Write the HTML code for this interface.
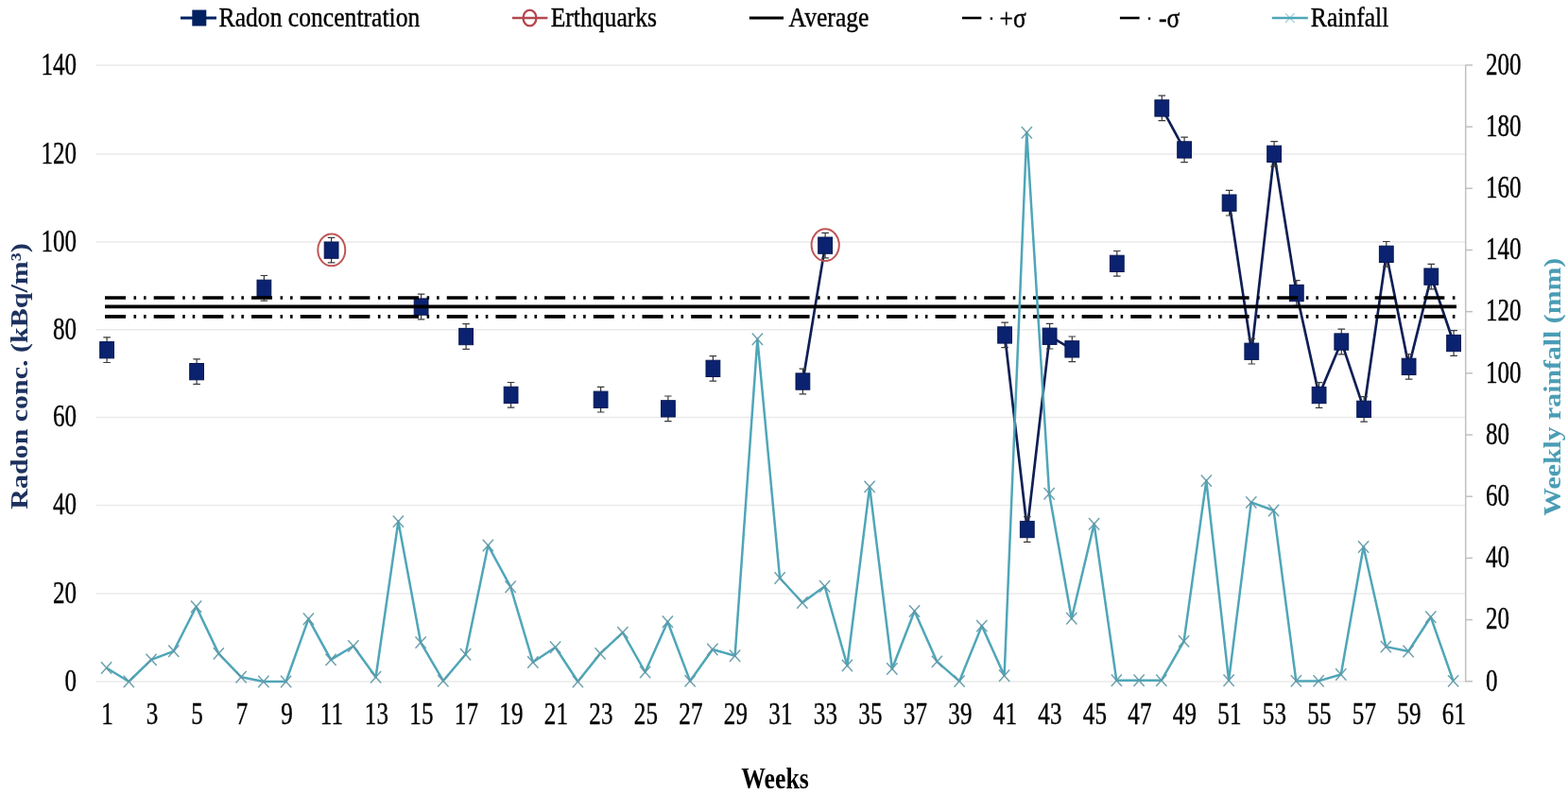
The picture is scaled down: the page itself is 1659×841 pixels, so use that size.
<!DOCTYPE html><html><head><meta charset="utf-8"><style>html,body{margin:0;padding:0;background:#fff;}svg{display:block}text{font-family:"Liberation Serif","Times New Roman",serif;}</style></head><body>
<svg width="1659" height="841" viewBox="0 0 1659 841">
<rect width="1659" height="841" fill="#fff"/>
<line x1="101.5" y1="721" x2="1550.5" y2="721" stroke="#eaeaea" stroke-width="1.5"/>
<line x1="101.5" y1="628" x2="1550.5" y2="628" stroke="#eaeaea" stroke-width="1.5"/>
<line x1="101.5" y1="534.5" x2="1550.5" y2="534.5" stroke="#eaeaea" stroke-width="1.5"/>
<line x1="101.5" y1="441.4" x2="1550.5" y2="441.4" stroke="#eaeaea" stroke-width="1.5"/>
<line x1="101.5" y1="348.7" x2="1550.5" y2="348.7" stroke="#eaeaea" stroke-width="1.5"/>
<line x1="101.5" y1="256.1" x2="1550.5" y2="256.1" stroke="#eaeaea" stroke-width="1.5"/>
<line x1="101.5" y1="162.9" x2="1550.5" y2="162.9" stroke="#eaeaea" stroke-width="1.5"/>
<line x1="101.5" y1="69.1" x2="1550.5" y2="69.1" stroke="#eaeaea" stroke-width="1.5"/>
<line x1="1550.7" y1="68.5" x2="1550.7" y2="721.5" stroke="#c0c0c0" stroke-width="1.5"/>
<line x1="1550.7" y1="720.8" x2="1558" y2="720.8" stroke="#c0c0c0" stroke-width="1.5"/>
<line x1="1550.7" y1="655.6" x2="1558" y2="655.6" stroke="#c0c0c0" stroke-width="1.5"/>
<line x1="1550.7" y1="590.4" x2="1558" y2="590.4" stroke="#c0c0c0" stroke-width="1.5"/>
<line x1="1550.7" y1="525.2" x2="1558" y2="525.2" stroke="#c0c0c0" stroke-width="1.5"/>
<line x1="1550.7" y1="460.0" x2="1558" y2="460.0" stroke="#c0c0c0" stroke-width="1.5"/>
<line x1="1550.7" y1="394.8" x2="1558" y2="394.8" stroke="#c0c0c0" stroke-width="1.5"/>
<line x1="1550.7" y1="329.7" x2="1558" y2="329.7" stroke="#c0c0c0" stroke-width="1.5"/>
<line x1="1550.7" y1="264.5" x2="1558" y2="264.5" stroke="#c0c0c0" stroke-width="1.5"/>
<line x1="1550.7" y1="199.3" x2="1558" y2="199.3" stroke="#c0c0c0" stroke-width="1.5"/>
<line x1="1550.7" y1="134.1" x2="1558" y2="134.1" stroke="#c0c0c0" stroke-width="1.5"/>
<line x1="1550.7" y1="68.9" x2="1558" y2="68.9" stroke="#c0c0c0" stroke-width="1.5"/>
<polyline points="849.4,403.5 873.1,259.6" fill="none" stroke="#0f1f55" stroke-width="2.7"/>
<polyline points="1063.1,354.4 1086.8,560 1110.6,355.7 1134.3,369.3" fill="none" stroke="#0f1f55" stroke-width="2.7"/>
<polyline points="1229.3,114.4 1253.1,158.4" fill="none" stroke="#0f1f55" stroke-width="2.7"/>
<polyline points="1300.6,214.7 1324.3,371.7 1348.1,162.9 1371.8,310 1395.6,418 1419.3,361.5 1443.1,432.9 1466.8,268.8 1490.6,387.8 1514.3,292.6 1538.1,363" fill="none" stroke="#0f1f55" stroke-width="2.7"/>
<path d="M113.1,356.9V383.5M109.3,356.9H116.9M109.3,383.5H116.9" stroke="#3a3a3a" stroke-width="1.2" fill="none"/>
<path d="M208.1,379.8V406.4M204.3,379.8H211.9M204.3,406.4H211.9" stroke="#3a3a3a" stroke-width="1.2" fill="none"/>
<path d="M279.4,291.5V318.1M275.6,291.5H283.2M275.6,318.1H283.2" stroke="#3a3a3a" stroke-width="1.2" fill="none"/>
<path d="M350.6,251.3V277.9M346.8,251.3H354.4M346.8,277.9H354.4" stroke="#3a3a3a" stroke-width="1.2" fill="none"/>
<path d="M445.6,311.2V337.8M441.8,311.2H449.4M441.8,337.8H449.4" stroke="#3a3a3a" stroke-width="1.2" fill="none"/>
<path d="M493.1,342.7V369.3M489.3,342.7H496.9M489.3,369.3H496.9" stroke="#3a3a3a" stroke-width="1.2" fill="none"/>
<path d="M540.6,404.5V431.1M536.8,404.5H544.4M536.8,431.1H544.4" stroke="#3a3a3a" stroke-width="1.2" fill="none"/>
<path d="M635.6,409.4V436.0M631.8,409.4H639.4M631.8,436.0H639.4" stroke="#3a3a3a" stroke-width="1.2" fill="none"/>
<path d="M706.9,419.0V445.6M703.1,419.0H710.6M703.1,445.6H710.6" stroke="#3a3a3a" stroke-width="1.2" fill="none"/>
<path d="M754.4,376.6V403.2M750.6,376.6H758.1M750.6,403.2H758.1" stroke="#3a3a3a" stroke-width="1.2" fill="none"/>
<path d="M849.4,390.2V416.8M845.6,390.2H853.1M845.6,416.8H853.1" stroke="#3a3a3a" stroke-width="1.2" fill="none"/>
<path d="M873.1,246.3V272.9M869.3,246.3H876.9M869.3,272.9H876.9" stroke="#3a3a3a" stroke-width="1.2" fill="none"/>
<path d="M1063.1,341.1V367.7M1059.3,341.1H1066.9M1059.3,367.7H1066.9" stroke="#3a3a3a" stroke-width="1.2" fill="none"/>
<path d="M1086.8,546.7V573.3M1083.0,546.7H1090.6M1083.0,573.3H1090.6" stroke="#3a3a3a" stroke-width="1.2" fill="none"/>
<path d="M1110.6,342.4V369.0M1106.8,342.4H1114.4M1106.8,369.0H1114.4" stroke="#3a3a3a" stroke-width="1.2" fill="none"/>
<path d="M1134.3,356.0V382.6M1130.5,356.0H1138.1M1130.5,382.6H1138.1" stroke="#3a3a3a" stroke-width="1.2" fill="none"/>
<path d="M1181.8,265.5V292.1M1178.0,265.5H1185.6M1178.0,292.1H1185.6" stroke="#3a3a3a" stroke-width="1.2" fill="none"/>
<path d="M1229.3,101.1V127.7M1225.5,101.1H1233.1M1225.5,127.7H1233.1" stroke="#3a3a3a" stroke-width="1.2" fill="none"/>
<path d="M1253.1,145.1V171.7M1249.3,145.1H1256.9M1249.3,171.7H1256.9" stroke="#3a3a3a" stroke-width="1.2" fill="none"/>
<path d="M1300.6,201.4V228.0M1296.8,201.4H1304.4M1296.8,228.0H1304.4" stroke="#3a3a3a" stroke-width="1.2" fill="none"/>
<path d="M1324.3,358.4V385.0M1320.5,358.4H1328.1M1320.5,385.0H1328.1" stroke="#3a3a3a" stroke-width="1.2" fill="none"/>
<path d="M1348.1,149.6V176.2M1344.3,149.6H1351.9M1344.3,176.2H1351.9" stroke="#3a3a3a" stroke-width="1.2" fill="none"/>
<path d="M1371.8,296.7V323.3M1368.0,296.7H1375.6M1368.0,323.3H1375.6" stroke="#3a3a3a" stroke-width="1.2" fill="none"/>
<path d="M1395.6,404.7V431.3M1391.8,404.7H1399.4M1391.8,431.3H1399.4" stroke="#3a3a3a" stroke-width="1.2" fill="none"/>
<path d="M1419.3,348.2V374.8M1415.5,348.2H1423.1M1415.5,374.8H1423.1" stroke="#3a3a3a" stroke-width="1.2" fill="none"/>
<path d="M1443.1,419.6V446.2M1439.3,419.6H1446.9M1439.3,446.2H1446.9" stroke="#3a3a3a" stroke-width="1.2" fill="none"/>
<path d="M1466.8,255.5V282.1M1463.0,255.5H1470.6M1463.0,282.1H1470.6" stroke="#3a3a3a" stroke-width="1.2" fill="none"/>
<path d="M1490.6,374.5V401.1M1486.8,374.5H1494.4M1486.8,401.1H1494.4" stroke="#3a3a3a" stroke-width="1.2" fill="none"/>
<path d="M1514.3,279.3V305.9M1510.5,279.3H1518.1M1510.5,305.9H1518.1" stroke="#3a3a3a" stroke-width="1.2" fill="none"/>
<path d="M1538.1,349.7V376.3M1534.3,349.7H1541.9M1534.3,376.3H1541.9" stroke="#3a3a3a" stroke-width="1.2" fill="none"/>
<rect x="105.7" y="361.6" width="14.8" height="17.3" fill="#0a2270" stroke="#071852" stroke-width="1"/>
<rect x="200.7" y="384.5" width="14.8" height="17.3" fill="#0a2270" stroke="#071852" stroke-width="1"/>
<rect x="272.0" y="296.2" width="14.8" height="17.3" fill="#0a2270" stroke="#071852" stroke-width="1"/>
<rect x="343.2" y="256.0" width="14.8" height="17.3" fill="#0a2270" stroke="#071852" stroke-width="1"/>
<rect x="438.2" y="315.9" width="14.8" height="17.3" fill="#0a2270" stroke="#071852" stroke-width="1"/>
<rect x="485.7" y="347.4" width="14.8" height="17.3" fill="#0a2270" stroke="#071852" stroke-width="1"/>
<rect x="533.2" y="409.2" width="14.8" height="17.3" fill="#0a2270" stroke="#071852" stroke-width="1"/>
<rect x="628.2" y="414.1" width="14.8" height="17.3" fill="#0a2270" stroke="#071852" stroke-width="1"/>
<rect x="699.5" y="423.7" width="14.8" height="17.3" fill="#0a2270" stroke="#071852" stroke-width="1"/>
<rect x="747.0" y="381.2" width="14.8" height="17.3" fill="#0a2270" stroke="#071852" stroke-width="1"/>
<rect x="842.0" y="394.9" width="14.8" height="17.3" fill="#0a2270" stroke="#071852" stroke-width="1"/>
<rect x="865.7" y="251.0" width="14.8" height="17.3" fill="#0a2270" stroke="#071852" stroke-width="1"/>
<rect x="1055.7" y="345.8" width="14.8" height="17.3" fill="#0a2270" stroke="#071852" stroke-width="1"/>
<rect x="1079.4" y="551.4" width="14.8" height="17.3" fill="#0a2270" stroke="#071852" stroke-width="1"/>
<rect x="1103.2" y="347.1" width="14.8" height="17.3" fill="#0a2270" stroke="#071852" stroke-width="1"/>
<rect x="1126.9" y="360.7" width="14.8" height="17.3" fill="#0a2270" stroke="#071852" stroke-width="1"/>
<rect x="1174.4" y="270.2" width="14.8" height="17.3" fill="#0a2270" stroke="#071852" stroke-width="1"/>
<rect x="1221.9" y="105.8" width="14.8" height="17.3" fill="#0a2270" stroke="#071852" stroke-width="1"/>
<rect x="1245.7" y="149.8" width="14.8" height="17.3" fill="#0a2270" stroke="#071852" stroke-width="1"/>
<rect x="1293.2" y="206.0" width="14.8" height="17.3" fill="#0a2270" stroke="#071852" stroke-width="1"/>
<rect x="1316.9" y="363.1" width="14.8" height="17.3" fill="#0a2270" stroke="#071852" stroke-width="1"/>
<rect x="1340.7" y="154.2" width="14.8" height="17.3" fill="#0a2270" stroke="#071852" stroke-width="1"/>
<rect x="1364.4" y="301.4" width="14.8" height="17.3" fill="#0a2270" stroke="#071852" stroke-width="1"/>
<rect x="1388.2" y="409.4" width="14.8" height="17.3" fill="#0a2270" stroke="#071852" stroke-width="1"/>
<rect x="1411.9" y="352.9" width="14.8" height="17.3" fill="#0a2270" stroke="#071852" stroke-width="1"/>
<rect x="1435.7" y="424.2" width="14.8" height="17.3" fill="#0a2270" stroke="#071852" stroke-width="1"/>
<rect x="1459.4" y="260.2" width="14.8" height="17.3" fill="#0a2270" stroke="#071852" stroke-width="1"/>
<rect x="1483.2" y="379.2" width="14.8" height="17.3" fill="#0a2270" stroke="#071852" stroke-width="1"/>
<rect x="1506.9" y="284.0" width="14.8" height="17.3" fill="#0a2270" stroke="#071852" stroke-width="1"/>
<rect x="1530.7" y="354.4" width="14.8" height="17.3" fill="#0a2270" stroke="#071852" stroke-width="1"/>
<line x1="111" y1="324.4" x2="1541" y2="324.4" stroke="#000" stroke-width="3.6"/>
<line x1="111" y1="315.0" x2="1542" y2="315.0" stroke="#000" stroke-width="3.6" stroke-dasharray="22 8.5 2.6 7.9 2.6 8.08"/>
<line x1="111" y1="334.9" x2="1542" y2="334.9" stroke="#000" stroke-width="3.6" stroke-dasharray="22 8.5 2.6 7.9 2.6 8.08"/>
<polyline points="112.6,706.5 136.3,721 160.1,697.9 183.8,688.8 207.6,641.7 231.3,691.4 255.1,716.2 278.9,721 302.6,721 326.4,654.7 350.1,697.9 373.9,683.5 397.6,716.2 421.4,551.6 445.1,679.6 468.9,720.2 492.6,692.2 516.4,577 540.1,620.7 563.9,700.5 587.6,684.8 611.4,721 635.1,691.4 658.9,669.1 682.6,711 706.4,657.7 730.1,720.4 753.9,687 777.6,693.7 801.4,358.8 825.1,611.5 848.9,637.5 872.6,620.2 896.4,704 920.1,514.9 943.9,707.5 967.6,646.5 991.4,699.9 1015.1,720.6 1038.8,662.1 1062.6,714.7 1086.3,140.3 1110.1,522.3 1133.8,654.2 1157.6,554.2 1181.3,719.8 1205.1,719.8 1228.8,719.8 1252.6,678.4 1276.3,508.6 1300.1,719.8 1323.8,531.4 1347.6,540 1371.3,720.4 1395.1,720.4 1418.8,713.5 1442.6,578.5 1466.3,684.1 1490.1,689 1513.8,652.7 1537.6,720.4" fill="none" stroke="#4FA6B8" stroke-width="2.5" stroke-linejoin="round"/>
<path d="M107.0,700.3L118.2,712.7M107.0,712.7L118.2,700.3" stroke="#5F98A6" stroke-width="1.5" opacity="0.9"/>
<path d="M130.8,714.8L141.9,727.2M130.8,727.2L141.9,714.8" stroke="#5F98A6" stroke-width="1.5" opacity="0.9"/>
<path d="M154.5,691.7L165.7,704.1M154.5,704.1L165.7,691.7" stroke="#5F98A6" stroke-width="1.5" opacity="0.9"/>
<path d="M178.2,682.6L189.4,695.0M178.2,695.0L189.4,682.6" stroke="#5F98A6" stroke-width="1.5" opacity="0.9"/>
<path d="M202.0,635.5L213.2,647.9M202.0,647.9L213.2,635.5" stroke="#5F98A6" stroke-width="1.5" opacity="0.9"/>
<path d="M225.8,685.2L236.9,697.6M225.8,697.6L236.9,685.2" stroke="#5F98A6" stroke-width="1.5" opacity="0.9"/>
<path d="M249.5,710.0L260.7,722.4M249.5,722.4L260.7,710.0" stroke="#5F98A6" stroke-width="1.5" opacity="0.9"/>
<path d="M273.2,714.8L284.5,727.2M273.2,727.2L284.5,714.8" stroke="#5F98A6" stroke-width="1.5" opacity="0.9"/>
<path d="M297.0,714.8L308.2,727.2M297.0,727.2L308.2,714.8" stroke="#5F98A6" stroke-width="1.5" opacity="0.9"/>
<path d="M320.8,648.5L332.0,660.9M320.8,660.9L332.0,648.5" stroke="#5F98A6" stroke-width="1.5" opacity="0.9"/>
<path d="M344.5,691.7L355.7,704.1M344.5,704.1L355.7,691.7" stroke="#5F98A6" stroke-width="1.5" opacity="0.9"/>
<path d="M368.2,677.3L379.5,689.7M368.2,689.7L379.5,677.3" stroke="#5F98A6" stroke-width="1.5" opacity="0.9"/>
<path d="M392.0,710.0L403.2,722.4M392.0,722.4L403.2,710.0" stroke="#5F98A6" stroke-width="1.5" opacity="0.9"/>
<path d="M415.8,545.4L427.0,557.8M415.8,557.8L427.0,545.4" stroke="#5F98A6" stroke-width="1.5" opacity="0.9"/>
<path d="M439.5,673.4L450.7,685.8M439.5,685.8L450.7,673.4" stroke="#5F98A6" stroke-width="1.5" opacity="0.9"/>
<path d="M463.2,714.0L474.5,726.4M463.2,726.4L474.5,714.0" stroke="#5F98A6" stroke-width="1.5" opacity="0.9"/>
<path d="M487.0,686.0L498.2,698.4M487.0,698.4L498.2,686.0" stroke="#5F98A6" stroke-width="1.5" opacity="0.9"/>
<path d="M510.8,570.8L522.0,583.2M510.8,583.2L522.0,570.8" stroke="#5F98A6" stroke-width="1.5" opacity="0.9"/>
<path d="M534.5,614.5L545.7,626.9M534.5,626.9L545.7,614.5" stroke="#5F98A6" stroke-width="1.5" opacity="0.9"/>
<path d="M558.2,694.3L569.5,706.7M558.2,706.7L569.5,694.3" stroke="#5F98A6" stroke-width="1.5" opacity="0.9"/>
<path d="M582.0,678.6L593.2,691.0M582.0,691.0L593.2,678.6" stroke="#5F98A6" stroke-width="1.5" opacity="0.9"/>
<path d="M605.8,714.8L617.0,727.2M605.8,727.2L617.0,714.8" stroke="#5F98A6" stroke-width="1.5" opacity="0.9"/>
<path d="M629.5,685.2L640.7,697.6M629.5,697.6L640.7,685.2" stroke="#5F98A6" stroke-width="1.5" opacity="0.9"/>
<path d="M653.2,662.9L664.5,675.3M653.2,675.3L664.5,662.9" stroke="#5F98A6" stroke-width="1.5" opacity="0.9"/>
<path d="M677.0,704.8L688.2,717.2M677.0,717.2L688.2,704.8" stroke="#5F98A6" stroke-width="1.5" opacity="0.9"/>
<path d="M700.8,651.5L712.0,663.9M700.8,663.9L712.0,651.5" stroke="#5F98A6" stroke-width="1.5" opacity="0.9"/>
<path d="M724.5,714.2L735.7,726.6M724.5,726.6L735.7,714.2" stroke="#5F98A6" stroke-width="1.5" opacity="0.9"/>
<path d="M748.2,680.8L759.5,693.2M748.2,693.2L759.5,680.8" stroke="#5F98A6" stroke-width="1.5" opacity="0.9"/>
<path d="M772.0,687.5L783.2,699.9M772.0,699.9L783.2,687.5" stroke="#5F98A6" stroke-width="1.5" opacity="0.9"/>
<path d="M795.8,352.6L807.0,365.0M795.8,365.0L807.0,352.6" stroke="#5F98A6" stroke-width="1.5" opacity="0.9"/>
<path d="M819.5,605.3L830.7,617.7M819.5,617.7L830.7,605.3" stroke="#5F98A6" stroke-width="1.5" opacity="0.9"/>
<path d="M843.2,631.3L854.5,643.7M843.2,643.7L854.5,631.3" stroke="#5F98A6" stroke-width="1.5" opacity="0.9"/>
<path d="M867.0,614.0L878.2,626.4M867.0,626.4L878.2,614.0" stroke="#5F98A6" stroke-width="1.5" opacity="0.9"/>
<path d="M890.8,697.8L902.0,710.2M890.8,710.2L902.0,697.8" stroke="#5F98A6" stroke-width="1.5" opacity="0.9"/>
<path d="M914.5,508.7L925.7,521.1M914.5,521.1L925.7,508.7" stroke="#5F98A6" stroke-width="1.5" opacity="0.9"/>
<path d="M938.2,701.3L949.5,713.7M938.2,713.7L949.5,701.3" stroke="#5F98A6" stroke-width="1.5" opacity="0.9"/>
<path d="M962.0,640.3L973.2,652.7M962.0,652.7L973.2,640.3" stroke="#5F98A6" stroke-width="1.5" opacity="0.9"/>
<path d="M985.8,693.7L997.0,706.1M985.8,706.1L997.0,693.7" stroke="#5F98A6" stroke-width="1.5" opacity="0.9"/>
<path d="M1009.5,714.4L1020.7,726.8M1009.5,726.8L1020.7,714.4" stroke="#5F98A6" stroke-width="1.5" opacity="0.9"/>
<path d="M1033.2,655.9L1044.4,668.3M1033.2,668.3L1044.4,655.9" stroke="#5F98A6" stroke-width="1.5" opacity="0.9"/>
<path d="M1057.0,708.5L1068.2,720.9M1057.0,720.9L1068.2,708.5" stroke="#5F98A6" stroke-width="1.5" opacity="0.9"/>
<path d="M1080.8,134.1L1091.9,146.5M1080.8,146.5L1091.9,134.1" stroke="#5F98A6" stroke-width="1.5" opacity="0.9"/>
<path d="M1104.5,516.1L1115.7,528.5M1104.5,528.5L1115.7,516.1" stroke="#5F98A6" stroke-width="1.5" opacity="0.9"/>
<path d="M1128.2,648.0L1139.4,660.4M1128.2,660.4L1139.4,648.0" stroke="#5F98A6" stroke-width="1.5" opacity="0.9"/>
<path d="M1152.0,548.0L1163.2,560.4M1152.0,560.4L1163.2,548.0" stroke="#5F98A6" stroke-width="1.5" opacity="0.9"/>
<path d="M1175.8,713.6L1186.9,726.0M1175.8,726.0L1186.9,713.6" stroke="#5F98A6" stroke-width="1.5" opacity="0.9"/>
<path d="M1199.5,713.6L1210.7,726.0M1199.5,726.0L1210.7,713.6" stroke="#5F98A6" stroke-width="1.5" opacity="0.9"/>
<path d="M1223.2,713.6L1234.4,726.0M1223.2,726.0L1234.4,713.6" stroke="#5F98A6" stroke-width="1.5" opacity="0.9"/>
<path d="M1247.0,672.2L1258.2,684.6M1247.0,684.6L1258.2,672.2" stroke="#5F98A6" stroke-width="1.5" opacity="0.9"/>
<path d="M1270.8,502.4L1281.9,514.8M1270.8,514.8L1281.9,502.4" stroke="#5F98A6" stroke-width="1.5" opacity="0.9"/>
<path d="M1294.5,713.6L1305.7,726.0M1294.5,726.0L1305.7,713.6" stroke="#5F98A6" stroke-width="1.5" opacity="0.9"/>
<path d="M1318.2,525.2L1329.4,537.6M1318.2,537.6L1329.4,525.2" stroke="#5F98A6" stroke-width="1.5" opacity="0.9"/>
<path d="M1342.0,533.8L1353.2,546.2M1342.0,546.2L1353.2,533.8" stroke="#5F98A6" stroke-width="1.5" opacity="0.9"/>
<path d="M1365.8,714.2L1376.9,726.6M1365.8,726.6L1376.9,714.2" stroke="#5F98A6" stroke-width="1.5" opacity="0.9"/>
<path d="M1389.5,714.2L1400.7,726.6M1389.5,726.6L1400.7,714.2" stroke="#5F98A6" stroke-width="1.5" opacity="0.9"/>
<path d="M1413.2,707.3L1424.4,719.7M1413.2,719.7L1424.4,707.3" stroke="#5F98A6" stroke-width="1.5" opacity="0.9"/>
<path d="M1437.0,572.3L1448.2,584.7M1437.0,584.7L1448.2,572.3" stroke="#5F98A6" stroke-width="1.5" opacity="0.9"/>
<path d="M1460.8,677.9L1471.9,690.3M1460.8,690.3L1471.9,677.9" stroke="#5F98A6" stroke-width="1.5" opacity="0.9"/>
<path d="M1484.5,682.8L1495.7,695.2M1484.5,695.2L1495.7,682.8" stroke="#5F98A6" stroke-width="1.5" opacity="0.9"/>
<path d="M1508.2,646.5L1519.4,658.9M1508.2,658.9L1519.4,646.5" stroke="#5F98A6" stroke-width="1.5" opacity="0.9"/>
<path d="M1532.0,714.2L1543.2,726.6M1532.0,726.6L1543.2,714.2" stroke="#5F98A6" stroke-width="1.5" opacity="0.9"/>
<ellipse cx="350.8" cy="264.4" rx="14.5" ry="16.9" fill="none" stroke="#C05658" stroke-width="2"/>
<ellipse cx="873.2" cy="259.2" rx="14.6" ry="16.9" fill="none" stroke="#C05658" stroke-width="2"/>
<text transform="translate(81.0,730.8) scale(0.76,1)" font-size="33" text-anchor="end" fill="#000" stroke="#000" stroke-width="0.4">0</text>
<text transform="translate(81.0,637.8) scale(0.76,1)" font-size="33" text-anchor="end" fill="#000" stroke="#000" stroke-width="0.4">20</text>
<text transform="translate(81.0,544.3) scale(0.76,1)" font-size="33" text-anchor="end" fill="#000" stroke="#000" stroke-width="0.4">40</text>
<text transform="translate(81.0,451.2) scale(0.76,1)" font-size="33" text-anchor="end" fill="#000" stroke="#000" stroke-width="0.4">60</text>
<text transform="translate(81.0,358.5) scale(0.76,1)" font-size="33" text-anchor="end" fill="#000" stroke="#000" stroke-width="0.4">80</text>
<text transform="translate(81.0,265.90000000000003) scale(0.76,1)" font-size="33" text-anchor="end" fill="#000" stroke="#000" stroke-width="0.4">100</text>
<text transform="translate(81.0,172.70000000000002) scale(0.76,1)" font-size="33" text-anchor="end" fill="#000" stroke="#000" stroke-width="0.4">120</text>
<text transform="translate(81.0,78.89999999999999) scale(0.76,1)" font-size="33" text-anchor="end" fill="#000" stroke="#000" stroke-width="0.4">140</text>
<text transform="translate(1572.0,730.5999999999999) scale(0.76,1)" font-size="33" text-anchor="start" fill="#000" stroke="#000" stroke-width="0.4">0</text>
<text transform="translate(1572.0,665.4099999999999) scale(0.76,1)" font-size="33" text-anchor="start" fill="#000" stroke="#000" stroke-width="0.4">20</text>
<text transform="translate(1572.0,600.2199999999999) scale(0.76,1)" font-size="33" text-anchor="start" fill="#000" stroke="#000" stroke-width="0.4">40</text>
<text transform="translate(1572.0,535.03) scale(0.76,1)" font-size="33" text-anchor="start" fill="#000" stroke="#000" stroke-width="0.4">60</text>
<text transform="translate(1572.0,469.84) scale(0.76,1)" font-size="33" text-anchor="start" fill="#000" stroke="#000" stroke-width="0.4">80</text>
<text transform="translate(1572.0,404.65) scale(0.76,1)" font-size="33" text-anchor="start" fill="#000" stroke="#000" stroke-width="0.4">100</text>
<text transform="translate(1572.0,339.46) scale(0.76,1)" font-size="33" text-anchor="start" fill="#000" stroke="#000" stroke-width="0.4">120</text>
<text transform="translate(1572.0,274.27) scale(0.76,1)" font-size="33" text-anchor="start" fill="#000" stroke="#000" stroke-width="0.4">140</text>
<text transform="translate(1572.0,209.07999999999998) scale(0.76,1)" font-size="33" text-anchor="start" fill="#000" stroke="#000" stroke-width="0.4">160</text>
<text transform="translate(1572.0,143.88999999999993) scale(0.76,1)" font-size="33" text-anchor="start" fill="#000" stroke="#000" stroke-width="0.4">180</text>
<text transform="translate(1572.0,78.69999999999997) scale(0.76,1)" font-size="33" text-anchor="start" fill="#000" stroke="#000" stroke-width="0.4">200</text>
<text transform="translate(113.39999999999999,765.6) scale(0.76,1)" font-size="33" text-anchor="middle" fill="#000" stroke="#000" stroke-width="0.4">1</text>
<text transform="translate(160.9,765.6) scale(0.76,1)" font-size="33" text-anchor="middle" fill="#000" stroke="#000" stroke-width="0.4">3</text>
<text transform="translate(208.4,765.6) scale(0.76,1)" font-size="33" text-anchor="middle" fill="#000" stroke="#000" stroke-width="0.4">5</text>
<text transform="translate(255.9,765.6) scale(0.76,1)" font-size="33" text-anchor="middle" fill="#000" stroke="#000" stroke-width="0.4">7</text>
<text transform="translate(303.40000000000003,765.6) scale(0.76,1)" font-size="33" text-anchor="middle" fill="#000" stroke="#000" stroke-width="0.4">9</text>
<text transform="translate(350.90000000000003,765.6) scale(0.76,1)" font-size="33" text-anchor="middle" fill="#000" stroke="#000" stroke-width="0.4">11</text>
<text transform="translate(398.40000000000003,765.6) scale(0.76,1)" font-size="33" text-anchor="middle" fill="#000" stroke="#000" stroke-width="0.4">13</text>
<text transform="translate(445.90000000000003,765.6) scale(0.76,1)" font-size="33" text-anchor="middle" fill="#000" stroke="#000" stroke-width="0.4">15</text>
<text transform="translate(493.40000000000003,765.6) scale(0.76,1)" font-size="33" text-anchor="middle" fill="#000" stroke="#000" stroke-width="0.4">17</text>
<text transform="translate(540.9,765.6) scale(0.76,1)" font-size="33" text-anchor="middle" fill="#000" stroke="#000" stroke-width="0.4">19</text>
<text transform="translate(588.4,765.6) scale(0.76,1)" font-size="33" text-anchor="middle" fill="#000" stroke="#000" stroke-width="0.4">21</text>
<text transform="translate(635.9,765.6) scale(0.76,1)" font-size="33" text-anchor="middle" fill="#000" stroke="#000" stroke-width="0.4">23</text>
<text transform="translate(683.4,765.6) scale(0.76,1)" font-size="33" text-anchor="middle" fill="#000" stroke="#000" stroke-width="0.4">25</text>
<text transform="translate(730.9,765.6) scale(0.76,1)" font-size="33" text-anchor="middle" fill="#000" stroke="#000" stroke-width="0.4">27</text>
<text transform="translate(778.4,765.6) scale(0.76,1)" font-size="33" text-anchor="middle" fill="#000" stroke="#000" stroke-width="0.4">29</text>
<text transform="translate(825.9,765.6) scale(0.76,1)" font-size="33" text-anchor="middle" fill="#000" stroke="#000" stroke-width="0.4">31</text>
<text transform="translate(873.4,765.6) scale(0.76,1)" font-size="33" text-anchor="middle" fill="#000" stroke="#000" stroke-width="0.4">33</text>
<text transform="translate(920.9,765.6) scale(0.76,1)" font-size="33" text-anchor="middle" fill="#000" stroke="#000" stroke-width="0.4">35</text>
<text transform="translate(968.4,765.6) scale(0.76,1)" font-size="33" text-anchor="middle" fill="#000" stroke="#000" stroke-width="0.4">37</text>
<text transform="translate(1015.9,765.6) scale(0.76,1)" font-size="33" text-anchor="middle" fill="#000" stroke="#000" stroke-width="0.4">39</text>
<text transform="translate(1063.3999999999999,765.6) scale(0.76,1)" font-size="33" text-anchor="middle" fill="#000" stroke="#000" stroke-width="0.4">41</text>
<text transform="translate(1110.8999999999999,765.6) scale(0.76,1)" font-size="33" text-anchor="middle" fill="#000" stroke="#000" stroke-width="0.4">43</text>
<text transform="translate(1158.3999999999999,765.6) scale(0.76,1)" font-size="33" text-anchor="middle" fill="#000" stroke="#000" stroke-width="0.4">45</text>
<text transform="translate(1205.8999999999999,765.6) scale(0.76,1)" font-size="33" text-anchor="middle" fill="#000" stroke="#000" stroke-width="0.4">47</text>
<text transform="translate(1253.3999999999999,765.6) scale(0.76,1)" font-size="33" text-anchor="middle" fill="#000" stroke="#000" stroke-width="0.4">49</text>
<text transform="translate(1300.8999999999999,765.6) scale(0.76,1)" font-size="33" text-anchor="middle" fill="#000" stroke="#000" stroke-width="0.4">51</text>
<text transform="translate(1348.3999999999999,765.6) scale(0.76,1)" font-size="33" text-anchor="middle" fill="#000" stroke="#000" stroke-width="0.4">53</text>
<text transform="translate(1395.8999999999999,765.6) scale(0.76,1)" font-size="33" text-anchor="middle" fill="#000" stroke="#000" stroke-width="0.4">55</text>
<text transform="translate(1443.3999999999999,765.6) scale(0.76,1)" font-size="33" text-anchor="middle" fill="#000" stroke="#000" stroke-width="0.4">57</text>
<text transform="translate(1490.8999999999999,765.6) scale(0.76,1)" font-size="33" text-anchor="middle" fill="#000" stroke="#000" stroke-width="0.4">59</text>
<text transform="translate(1538.3999999999999,765.6) scale(0.76,1)" font-size="33" text-anchor="middle" fill="#000" stroke="#000" stroke-width="0.4">61</text>
<text transform="translate(820.0,834.2) scale(0.83,1)" font-size="31" text-anchor="middle" fill="#000" font-weight="bold">Weeks</text>
<text transform="translate(28.8,398) scale(0.84,1) rotate(-90)" font-size="30" text-anchor="middle" fill="#1c315e" font-weight="bold">Radon conc. (kBq/m³)</text>
<text transform="translate(1651.4,409.2) scale(0.84,1) rotate(-90)" font-size="29.8" text-anchor="middle" fill="#4A9DB5" font-weight="bold">Weekly rainfall (mm)</text>
<line x1="191" y1="19" x2="229" y2="19" stroke="#002060" stroke-width="3"/>
<rect x="203.3" y="10.5" width="15" height="17" fill="#002060"/>
<text transform="translate(231.6,28) scale(0.84,1)" font-size="30.5" text-anchor="start" fill="#000" stroke="#000" stroke-width="0.4">Radon concentration</text>
<line x1="542" y1="19" x2="579.4" y2="19" stroke="#B4484F" stroke-width="2.6"/>
<ellipse cx="560.5" cy="19" rx="6.9" ry="8.4" fill="none" stroke="#B4484F" stroke-width="2.3"/>
<text transform="translate(582.7,28) scale(0.84,1)" font-size="30.5" text-anchor="start" fill="#000" stroke="#000" stroke-width="0.4">Erthquarks</text>
<line x1="792.8" y1="19" x2="829" y2="19" stroke="#000" stroke-width="3"/>
<text transform="translate(834.6,28) scale(0.84,1)" font-size="30.5" text-anchor="start" fill="#000" stroke="#000" stroke-width="0.4">Average</text>
<line x1="1018" y1="19" x2="1038.4" y2="19" stroke="#000" stroke-width="2.6"/>
<rect x="1047.7" y="18.4" width="2.4" height="2.4" fill="#000"/>
<text transform="translate(1057.6,29.2) scale(0.84,1)" font-size="30.5" text-anchor="start" fill="#000" stroke="#000" stroke-width="0.4">+σ</text>
<line x1="1184.9" y1="19" x2="1205.6" y2="19" stroke="#000" stroke-width="2.6"/>
<rect x="1214.8" y="18.4" width="2.4" height="2.4" fill="#000"/>
<text transform="translate(1226,29.2) scale(0.84,1)" font-size="30.5" text-anchor="start" fill="#000" stroke="#000" stroke-width="0.4">-σ</text>
<line x1="1345.8" y1="19" x2="1383.8" y2="19" stroke="#4FA6B8" stroke-width="2.6"/>
<path d="M1360,14L1369.6,24M1360,24L1369.6,14" stroke="#4FA6B8" stroke-width="1.2" opacity="0.5"/>
<text transform="translate(1386.8,28) scale(0.84,1)" font-size="30.5" text-anchor="start" fill="#000" stroke="#000" stroke-width="0.4">Rainfall</text>
</svg></body></html>
